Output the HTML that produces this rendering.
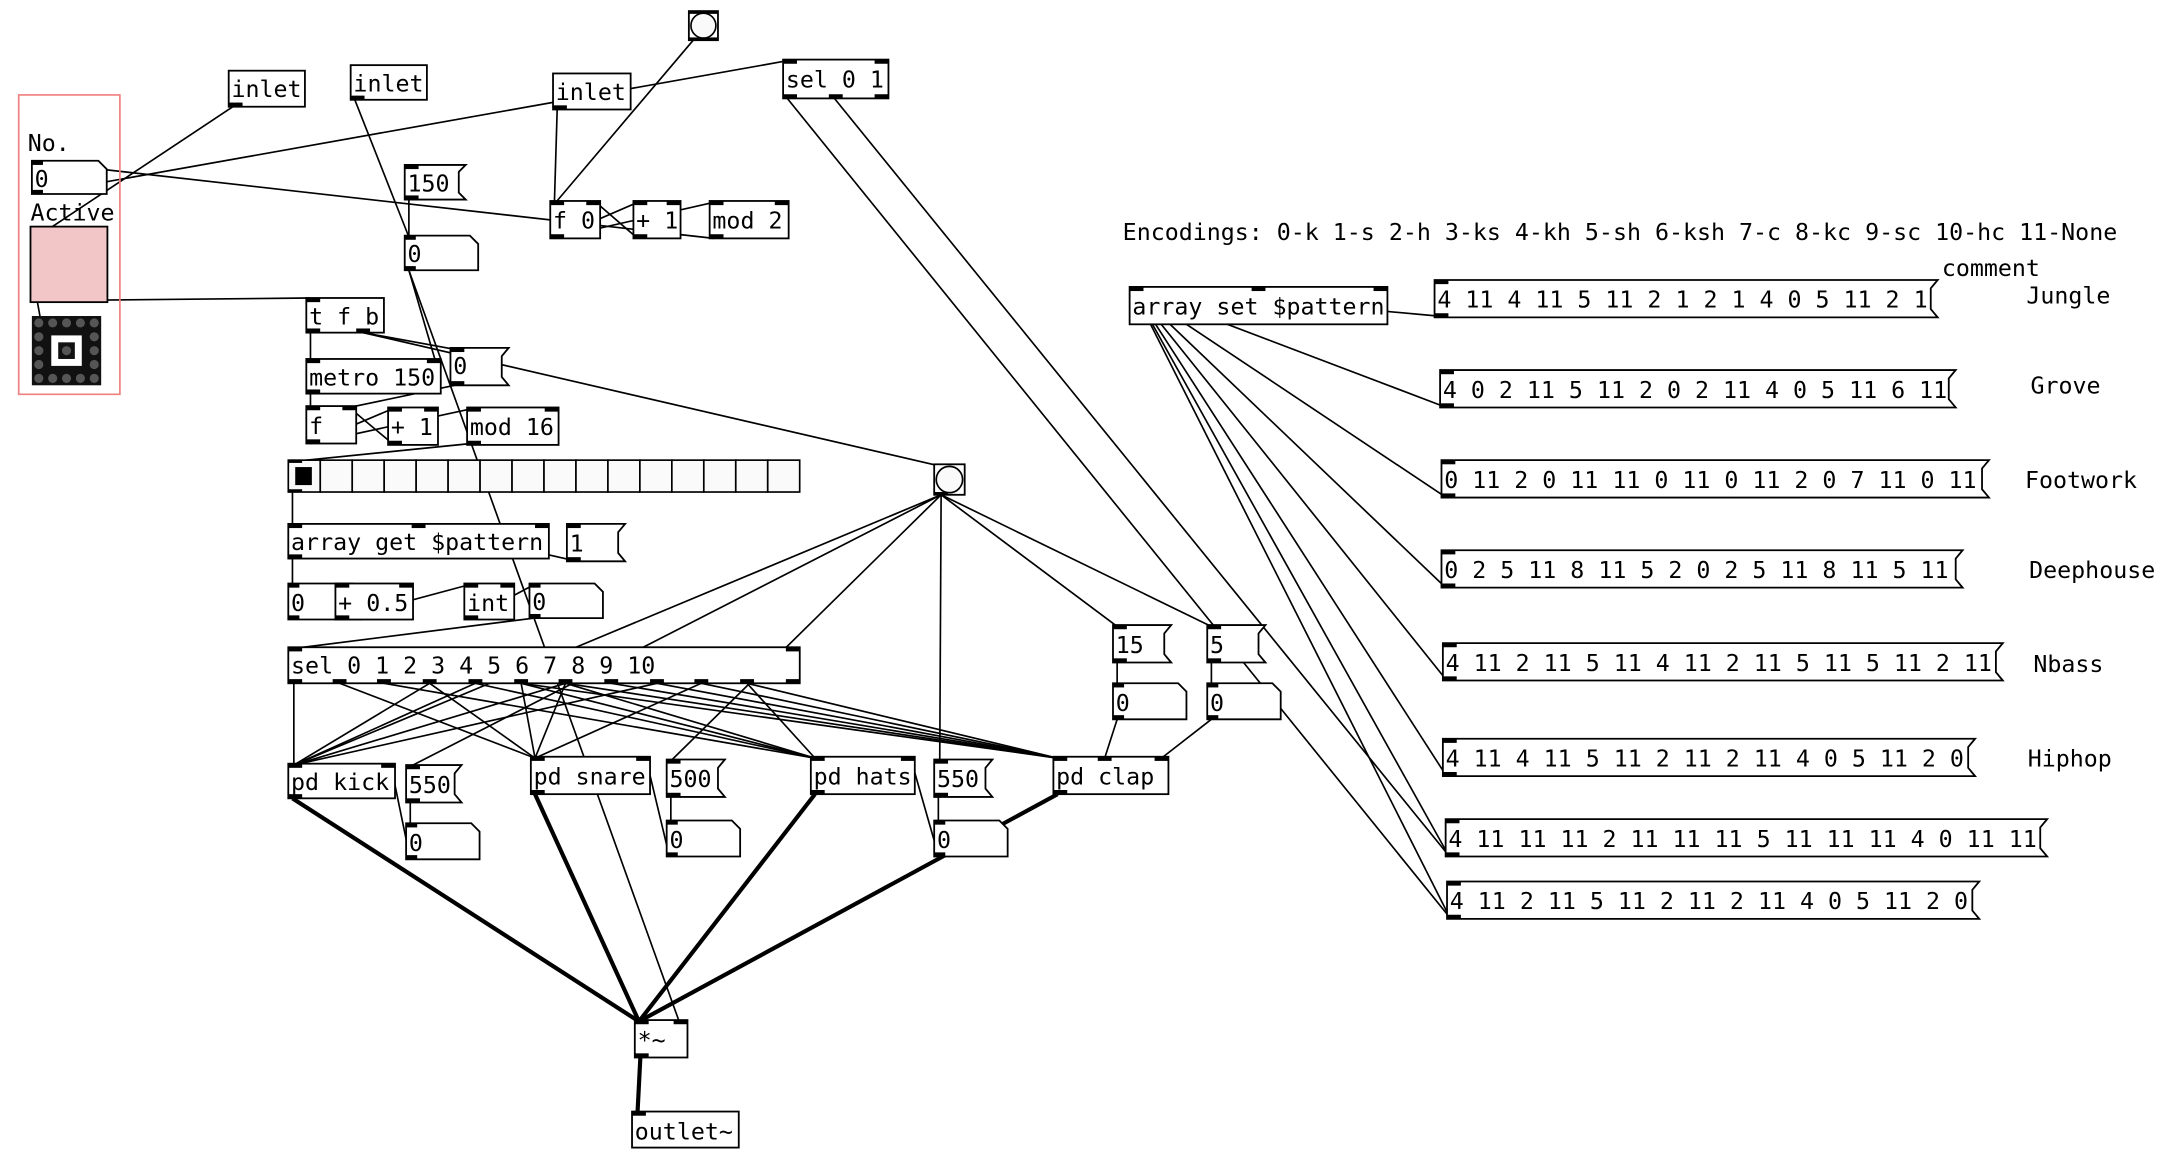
<!DOCTYPE html>
<html><head><meta charset="utf-8"><style>
html,body{margin:0;padding:0;background:#fff;width:2174px;height:1162px;overflow:hidden}
svg{display:block}
text{font-family:"DejaVu Sans Mono","Liberation Mono",monospace;font-size:16.8px;fill:#000}
.b{fill:#fff;stroke:#000;stroke-width:1.3}
.l{stroke:#000;stroke-width:1.2;fill:none}
.t{stroke:#000;stroke-width:3;fill:none}
.p{fill:#000}
</style></head><body>
<svg width="2174" height="1162" viewBox="0 0 1568.5 838.4" preserveAspectRatio="none">
<g class="l">
<line x1="168" y1="77" x2="37" y2="164"/>
<line x1="27" y1="140" x2="567" y2="44"/>
<line x1="28" y1="117" x2="515" y2="172"/>
<line x1="402" y1="79" x2="400" y2="146"/>
<line x1="501" y1="28" x2="401" y2="146"/>
<line x1="400" y1="172" x2="460" y2="146"/>
<line x1="460" y1="172" x2="430" y2="146"/>
<line x1="400" y1="172" x2="515" y2="146"/>
<line x1="568" y1="71" x2="1046" y2="662"/>
<line x1="602" y1="71" x2="1045" y2="617"/>
<line x1="817" y1="208" x2="1037" y2="228"/>
<line x1="817" y1="208" x2="1041" y2="293"/>
<line x1="817" y1="208" x2="1042" y2="358"/>
<line x1="817" y1="208" x2="1042" y2="423"/>
<line x1="817" y1="208" x2="1043" y2="490"/>
<line x1="817" y1="208" x2="1043" y2="559"/>
<line x1="817" y1="208" x2="1045" y2="617"/>
<line x1="817" y1="208" x2="1046" y2="662"/>
<line x1="256" y1="72" x2="295" y2="171"/>
<line x1="295" y1="144" x2="295" y2="171"/>
<line x1="295" y1="195" x2="314" y2="260"/>
<line x1="295" y1="195" x2="490" y2="737"/>
<line x1="25" y1="217" x2="223" y2="215"/>
<line x1="27" y1="218" x2="29" y2="229"/>
<line x1="224" y1="240" x2="224" y2="260"/>
<line x1="262" y1="240" x2="677" y2="336"/>
<line x1="262" y1="240" x2="328" y2="252"/>
<line x1="328" y1="278" x2="252" y2="294"/>
<line x1="224" y1="284" x2="224" y2="294"/>
<line x1="224" y1="320" x2="283" y2="295"/>
<line x1="252" y1="294" x2="283" y2="320"/>
<line x1="224" y1="320" x2="340" y2="295"/>
<line x1="340" y1="320" x2="211" y2="333"/>
<line x1="211" y1="355" x2="211" y2="379"/>
<line x1="302" y1="379" x2="412" y2="404"/>
<line x1="211" y1="403" x2="211" y2="422"/>
<line x1="211" y1="447" x2="245" y2="422"/>
<line x1="245" y1="447" x2="338" y2="422"/>
<line x1="338" y1="447" x2="385" y2="422"/>
<line x1="385" y1="446" x2="211" y2="468"/>
<line x1="212" y1="493" x2="212" y2="552"/>
<line x1="245" y1="493" x2="386" y2="547"/>
<line x1="277" y1="493" x2="588" y2="547"/>
<line x1="310" y1="493" x2="212" y2="552"/>
<line x1="310" y1="493" x2="386" y2="547"/>
<line x1="343" y1="493" x2="212" y2="552"/>
<line x1="343" y1="493" x2="588" y2="547"/>
<line x1="376" y1="493" x2="386" y2="547"/>
<line x1="376" y1="493" x2="588" y2="547"/>
<line x1="376" y1="493" x2="763" y2="547"/>
<line x1="408" y1="493" x2="212" y2="552"/>
<line x1="408" y1="493" x2="386" y2="547"/>
<line x1="408" y1="493" x2="588" y2="547"/>
<line x1="408" y1="493" x2="763" y2="547"/>
<line x1="441" y1="493" x2="763" y2="547"/>
<line x1="474" y1="493" x2="212" y2="552"/>
<line x1="474" y1="493" x2="763" y2="547"/>
<line x1="506" y1="493" x2="386" y2="547"/>
<line x1="506" y1="493" x2="763" y2="547"/>
<line x1="539" y1="493" x2="588" y2="547"/>
<line x1="539" y1="493" x2="763" y2="547"/>
<line x1="679" y1="357" x2="212" y2="552"/>
<line x1="679" y1="357" x2="296" y2="553"/>
<line x1="679" y1="357" x2="484" y2="549"/>
<line x1="679" y1="357" x2="678" y2="549"/>
<line x1="679" y1="357" x2="806" y2="452"/>
<line x1="679" y1="357" x2="874" y2="452"/>
<line x1="296" y1="579" x2="296" y2="595"/>
<line x1="484" y1="575" x2="484" y2="593"/>
<line x1="677" y1="575" x2="677" y2="593"/>
<line x1="806" y1="478" x2="806" y2="494"/>
<line x1="874" y1="478" x2="874" y2="494"/>
<line x1="806" y1="519" x2="797" y2="547"/>
<line x1="874" y1="519" x2="838" y2="547"/>
<line x1="282" y1="552" x2="296" y2="620"/>
<line x1="466" y1="547" x2="483" y2="618"/>
<line x1="657" y1="547" x2="677" y2="617"/>
</g>
<g class="t">
<line x1="211" y1="576" x2="461" y2="737"/>
<line x1="386" y1="573" x2="461" y2="737"/>
<line x1="588" y1="573" x2="461" y2="737"/>
<line x1="763" y1="573" x2="461" y2="737"/>
<line x1="462" y1="763" x2="460" y2="802"/>
</g>

<rect x="13.5" y="68.5" width="73" height="216" fill="none" stroke="#f08080" stroke-width="1.2"/>
<text x="20" y="109">No.</text>
<path class="b" d="M23 116H71L77 122V140H23Z"/><text x="25" y="135">0</text>
<rect class="p" x="23" y="116" width="8" height="3"/><rect class="p" x="23" y="137" width="8" height="3"/>
<text x="22" y="159">Active</text>
<rect x="22" y="163.5" width="55.5" height="54.5" fill="#f2c6c6" stroke="#000" stroke-width="1.3"/>
<rect x="23" y="228" width="50" height="50" fill="#111"/>
<g fill="#555">
<circle cx="28" cy="233" r="3.3"/><circle cx="38" cy="233" r="3.3"/><circle cx="48" cy="233" r="3.3"/><circle cx="58" cy="233" r="3.3"/><circle cx="68" cy="233" r="3.3"/>
<circle cx="28" cy="243" r="3.3"/><circle cx="68" cy="243" r="3.3"/>
<circle cx="28" cy="253" r="3.3"/><circle cx="68" cy="253" r="3.3"/>
<circle cx="28" cy="263" r="3.3"/><circle cx="68" cy="263" r="3.3"/>
<circle cx="28" cy="273" r="3.3"/><circle cx="38" cy="273" r="3.3"/><circle cx="48" cy="273" r="3.3"/><circle cx="58" cy="273" r="3.3"/><circle cx="68" cy="273" r="3.3"/>
</g>
<rect x="37" y="242" width="22" height="22" fill="#fff"/><rect x="42" y="247" width="12" height="12" fill="#111"/><circle cx="48" cy="253" r="3.3" fill="#555"/>

<rect class="b" x="165" y="51" width="55" height="26"/><text x="167" y="70">inlet</text><rect class="p" x="165" y="74" width="10" height="3"/>
<rect class="b" x="253" y="47" width="55" height="25"/><text x="255" y="66">inlet</text><rect class="p" x="253" y="69" width="10" height="3"/>
<rect class="b" x="399" y="53" width="56" height="26"/><text x="401" y="72">inlet</text><rect class="p" x="399" y="76" width="10" height="3"/>
<rect class="b" x="497" y="8" width="21" height="21"/><circle cx="507.5" cy="18.5" r="9" fill="#fafafa" stroke="#000" stroke-width="1.2"/>
<rect class="p" x="497" y="8" width="21" height="2"/><rect class="p" x="497" y="27" width="21" height="2"/>
<rect class="b" x="565" y="43" width="76" height="28"/><text x="567" y="63">sel 0 1</text>
<rect class="p" x="565" y="43" width="10" height="3"/><rect class="p" x="631" y="43" width="10" height="3"/><rect class="p" x="565" y="68" width="10" height="3"/><rect class="p" x="598" y="68" width="10" height="3"/><rect class="p" x="631" y="68" width="10" height="3"/>
<path class="b" d="M292 119H336L331 124V139L336 144H292Z"/><text x="294" y="138">150</text>
<rect class="p" x="292" y="119" width="10" height="3"/><rect class="p" x="292" y="141" width="10" height="3"/>
<path class="b" d="M292 170H339L345 176V195H292Z"/><text x="294" y="189">0</text>
<rect class="p" x="292" y="170" width="8" height="3"/><rect class="p" x="292" y="192" width="8" height="3"/>
<rect class="b" x="397" y="145" width="36" height="27"/><text x="399" y="165">f 0</text>
<rect class="p" x="397" y="145" width="10" height="3"/><rect class="p" x="423" y="145" width="10" height="3"/><rect class="p" x="397" y="169" width="10" height="3"/>
<rect class="b" x="457" y="145" width="34" height="27"/><text x="459" y="165">+ 1</text>
<rect class="p" x="457" y="145" width="10" height="3"/><rect class="p" x="481" y="145" width="10" height="3"/><rect class="p" x="457" y="169" width="10" height="3"/>
<rect class="b" x="512" y="145" width="57" height="27"/><text x="514" y="165">mod 2</text>
<rect class="p" x="512" y="145" width="10" height="3"/><rect class="p" x="559" y="145" width="10" height="3"/><rect class="p" x="512" y="169" width="10" height="3"/>
<rect class="b" x="221" y="215" width="56" height="25"/><text x="223" y="234">t f b</text>
<rect class="p" x="221" y="215" width="10" height="3"/><rect class="p" x="221" y="237" width="10" height="3"/><rect class="p" x="257" y="237" width="10" height="3"/>
<rect class="b" x="221" y="259" width="97" height="25"/><text x="223" y="278">metro 150</text>
<rect class="p" x="221" y="259" width="10" height="3"/><rect class="p" x="308" y="259" width="10" height="3"/><rect class="p" x="221" y="281" width="10" height="3"/>
<path class="b" d="M325 251H367L362 257V272L367 278H325Z"/><text x="327" y="270">0</text>
<rect class="p" x="325" y="251" width="10" height="3"/><rect class="p" x="325" y="275" width="10" height="3"/>
<rect class="b" x="221" y="293" width="36" height="27"/><text x="223" y="313">f</text>
<rect class="p" x="221" y="293" width="10" height="3"/><rect class="p" x="247" y="293" width="10" height="3"/><rect class="p" x="221" y="317" width="10" height="3"/>
<rect class="b" x="280" y="294" width="36" height="27"/><text x="282" y="314">+ 1</text>
<rect class="p" x="280" y="294" width="10" height="3"/><rect class="p" x="306" y="294" width="10" height="3"/><rect class="p" x="280" y="318" width="10" height="3"/>
<rect class="b" x="337" y="294" width="66" height="27"/><text x="339" y="314">mod 16</text>
<rect class="p" x="337" y="294" width="10" height="3"/><rect class="p" x="393" y="294" width="10" height="3"/><rect class="p" x="337" y="318" width="10" height="3"/>
<g fill="#fafafa" stroke="#000" stroke-width="1.2">
<rect x="208" y="332" width="23.06" height="23"/><rect x="231.06" y="332" width="23.06" height="23"/><rect x="254.12" y="332" width="23.06" height="23"/><rect x="277.18" y="332" width="23.06" height="23"/>
<rect x="300.24" y="332" width="23.06" height="23"/><rect x="323.3" y="332" width="23.06" height="23"/><rect x="346.36" y="332" width="23.06" height="23"/><rect x="369.42" y="332" width="23.06" height="23"/>
<rect x="392.48" y="332" width="23.06" height="23"/><rect x="415.54" y="332" width="23.06" height="23"/><rect x="438.6" y="332" width="23.06" height="23"/><rect x="461.66" y="332" width="23.06" height="23"/>
<rect x="484.72" y="332" width="23.06" height="23"/><rect x="507.78" y="332" width="23.06" height="23"/><rect x="530.84" y="332" width="23.06" height="23"/><rect x="553.9" y="332" width="23.06" height="23"/>
</g>
<rect class="p" x="213" y="337" width="12" height="13"/>
<rect class="p" x="208" y="332" width="10" height="2"/><rect class="p" x="208" y="353" width="10" height="2"/>
<rect class="b" x="674" y="335" width="22" height="22"/><circle cx="685" cy="346" r="9.5" fill="#fafafa" stroke="#000" stroke-width="1.2"/>
<rect class="p" x="674" y="355" width="10" height="2"/>
<rect class="b" x="208" y="378" width="188" height="25"/><text x="210" y="397">array get $pattern</text>
<rect class="p" x="208" y="378" width="10" height="3"/><rect class="p" x="297" y="378" width="10" height="3"/><rect class="p" x="386" y="378" width="10" height="3"/><rect class="p" x="208" y="400" width="10" height="3"/>
<path class="b" d="M409 378H451L446 384V399L451 405H409Z"/><text x="411" y="398">1</text>
<rect class="p" x="409" y="378" width="10" height="3"/><rect class="p" x="409" y="402" width="10" height="3"/>
<path class="b" d="M208 421H255L261 427V447H208Z"/><text x="210" y="441">0</text>
<rect class="p" x="208" y="421" width="8" height="3"/><rect class="p" x="208" y="444" width="8" height="3"/>
<rect class="b" x="242" y="421" width="56" height="26"/><text x="244" y="441">+ 0.5</text>
<rect class="p" x="242" y="421" width="10" height="3"/><rect class="p" x="288" y="421" width="10" height="3"/><rect class="p" x="242" y="444" width="10" height="3"/>
<rect class="b" x="335" y="421" width="36" height="26"/><text x="337" y="441">int</text>
<rect class="p" x="335" y="421" width="10" height="3"/><rect class="p" x="361" y="421" width="10" height="3"/><rect class="p" x="335" y="444" width="10" height="3"/>
<path class="b" d="M382 421H429L435 427V446H382Z"/><text x="384" y="440">0</text>
<rect class="p" x="382" y="421" width="8" height="3"/><rect class="p" x="382" y="443" width="8" height="3"/>
<rect class="b" x="208" y="467" width="369" height="26"/><text x="210" y="486">sel 0 1 2 3 4 5 6 7 8 9 10</text>
<g class="p">
<rect x="208" y="467" width="10" height="3"/><rect x="567" y="467" width="10" height="3"/>
<rect x="208" y="490" width="10" height="3"/><rect x="240" y="490" width="10" height="3"/><rect x="272" y="490" width="10" height="3"/><rect x="305" y="490" width="10" height="3"/><rect x="338" y="490" width="10" height="3"/><rect x="371" y="490" width="10" height="3"/><rect x="403" y="490" width="10" height="3"/><rect x="436" y="490" width="10" height="3"/><rect x="469" y="490" width="10" height="3"/><rect x="501" y="490" width="10" height="3"/><rect x="534" y="490" width="10" height="3"/><rect x="567" y="490" width="10" height="3"/>
</g>
<rect class="b" x="208" y="551" width="77" height="25"/><text x="210" y="570">pd kick</text>
<rect class="p" x="208" y="551" width="10" height="3"/><rect class="p" x="275" y="551" width="10" height="3"/><rect class="p" x="208" y="573" width="10" height="3"/>
<path class="b" d="M293 552H333L328 558V573L333 579H293Z"/><text x="295" y="572">550</text>
<rect class="p" x="293" y="552" width="10" height="3"/><rect class="p" x="293" y="576" width="10" height="3"/>
<path class="b" d="M293 594H340L346 600V620H293Z"/><text x="295" y="614">0</text>
<rect class="p" x="293" y="594" width="8" height="3"/><rect class="p" x="293" y="617" width="8" height="3"/>
<rect class="b" x="383" y="546" width="86" height="27"/><text x="385" y="566">pd snare</text>
<rect class="p" x="383" y="546" width="10" height="3"/><rect class="p" x="459" y="546" width="10" height="3"/><rect class="p" x="383" y="570" width="10" height="3"/>
<path class="b" d="M481 548H523L518 554V569L523 575H481Z"/><text x="483" y="568">500</text>
<rect class="p" x="481" y="548" width="10" height="3"/><rect class="p" x="481" y="572" width="10" height="3"/>
<path class="b" d="M481 592H528L534 598V618H481Z"/><text x="483" y="612">0</text>
<rect class="p" x="481" y="592" width="8" height="3"/><rect class="p" x="481" y="615" width="8" height="3"/>
<rect class="b" x="585" y="546" width="75" height="27"/><text x="587" y="566">pd hats</text>
<rect class="p" x="585" y="546" width="10" height="3"/><rect class="p" x="650" y="546" width="10" height="3"/><rect class="p" x="585" y="570" width="10" height="3"/>
<path class="b" d="M674 548H716L711 554V569L716 575H674Z"/><text x="676" y="568">550</text>
<rect class="p" x="674" y="548" width="10" height="3"/><rect class="p" x="674" y="572" width="10" height="3"/>
<path class="b" d="M674 592H721L727 598V618H674Z"/><text x="676" y="612">0</text>
<rect class="p" x="674" y="592" width="8" height="3"/><rect class="p" x="674" y="615" width="8" height="3"/>
<rect class="b" x="760" y="546" width="83" height="27"/><text x="762" y="566">pd clap</text>
<rect class="p" x="760" y="546" width="10" height="3"/><rect class="p" x="792" y="546" width="10" height="3"/><rect class="p" x="833" y="546" width="10" height="3"/><rect class="p" x="760" y="570" width="10" height="3"/>
<path class="b" d="M803 451H845L840 457V472L845 478H803Z"/><text x="805" y="471">15</text>
<rect class="p" x="803" y="451" width="10" height="3"/><rect class="p" x="803" y="475" width="10" height="3"/>
<path class="b" d="M803 493H850L856 499V519H803Z"/><text x="805" y="513">0</text>
<rect class="p" x="803" y="493" width="8" height="3"/><rect class="p" x="803" y="516" width="8" height="3"/>
<path class="b" d="M871 451H913L908 457V472L913 478H871Z"/><text x="873" y="471">5</text>
<rect class="p" x="871" y="451" width="10" height="3"/><rect class="p" x="871" y="475" width="10" height="3"/>
<path class="b" d="M871 493H918L924 499V519H871Z"/><text x="873" y="513">0</text>
<rect class="p" x="871" y="493" width="8" height="3"/><rect class="p" x="871" y="516" width="8" height="3"/>
<rect class="b" x="458" y="736" width="38" height="27"/><text x="460" y="756">*~</text>
<rect class="p" x="458" y="736" width="10" height="3"/><rect class="p" x="486" y="736" width="10" height="3"/><rect class="p" x="458" y="760" width="10" height="3"/>
<rect class="b" x="456" y="802" width="77" height="26"/><text x="458" y="822">outlet~</text>
<rect class="p" x="456" y="802" width="10" height="3"/>

<text x="810" y="173">Encodings: 0-k 1-s 2-h 3-ks 4-kh 5-sh 6-ksh 7-c 8-kc 9-sc 10-hc 11-None</text>
<text x="1401" y="199">comment</text>
<rect class="b" x="815" y="207" width="186" height="27"/><text x="817" y="227">array set $pattern</text>
<rect class="p" x="815" y="207" width="10" height="3"/><rect class="p" x="903" y="207" width="10" height="3"/><rect class="p" x="991" y="207" width="10" height="3"/>
<path class="b" d="M1035 202H1398L1393 208V223L1398 229H1035Z"/><text x="1037" y="222">4 11 4 11 5 11 2 1 2 1 4 0 5 11 2 1</text>
<rect class="p" x="1035" y="202" width="10" height="3"/><rect class="p" x="1035" y="226" width="10" height="3"/>
<path class="b" d="M1039 267H1411L1406 273V288L1411 294H1039Z"/><text x="1041" y="287">4 0 2 11 5 11 2 0 2 11 4 0 5 11 6 11</text>
<rect class="p" x="1039" y="267" width="10" height="3"/><rect class="p" x="1039" y="291" width="10" height="3"/>
<path class="b" d="M1040 332H1435L1430 338V353L1435 359H1040Z"/><text x="1042" y="352">0 11 2 0 11 11 0 11 0 11 2 0 7 11 0 11</text>
<rect class="p" x="1040" y="332" width="10" height="3"/><rect class="p" x="1040" y="356" width="10" height="3"/>
<path class="b" d="M1040 397H1416L1411 403V418L1416 424H1040Z"/><text x="1042" y="417">0 2 5 11 8 11 5 2 0 2 5 11 8 11 5 11</text>
<rect class="p" x="1040" y="397" width="10" height="3"/><rect class="p" x="1040" y="421" width="10" height="3"/>
<path class="b" d="M1041 464H1445L1440 470V485L1445 491H1041Z"/><text x="1043" y="484">4 11 2 11 5 11 4 11 2 11 5 11 5 11 2 11</text>
<rect class="p" x="1041" y="464" width="10" height="3"/><rect class="p" x="1041" y="488" width="10" height="3"/>
<path class="b" d="M1041 533H1425L1420 539V554L1425 560H1041Z"/><text x="1043" y="553">4 11 4 11 5 11 2 11 2 11 4 0 5 11 2 0</text>
<rect class="p" x="1041" y="533" width="10" height="3"/><rect class="p" x="1041" y="557" width="10" height="3"/>
<path class="b" d="M1043 591H1477L1472 597V612L1477 618H1043Z"/><text x="1045" y="611">4 11 11 11 2 11 11 11 5 11 11 11 4 0 11 11</text>
<rect class="p" x="1043" y="591" width="10" height="3"/><rect class="p" x="1043" y="615" width="10" height="3"/>
<path class="b" d="M1044 636H1428L1423 642V657L1428 663H1044Z"/><text x="1046" y="656">4 11 2 11 5 11 2 11 2 11 4 0 5 11 2 0</text>
<rect class="p" x="1044" y="636" width="10" height="3"/><rect class="p" x="1044" y="660" width="10" height="3"/>
<text x="1462" y="219">Jungle</text>
<text x="1465" y="284">Grove</text>
<text x="1461" y="352">Footwork</text>
<text x="1464" y="417">Deephouse</text>
<text x="1467" y="485">Nbass</text>
<text x="1463" y="553">Hiphop</text>
</svg>
</body></html>
